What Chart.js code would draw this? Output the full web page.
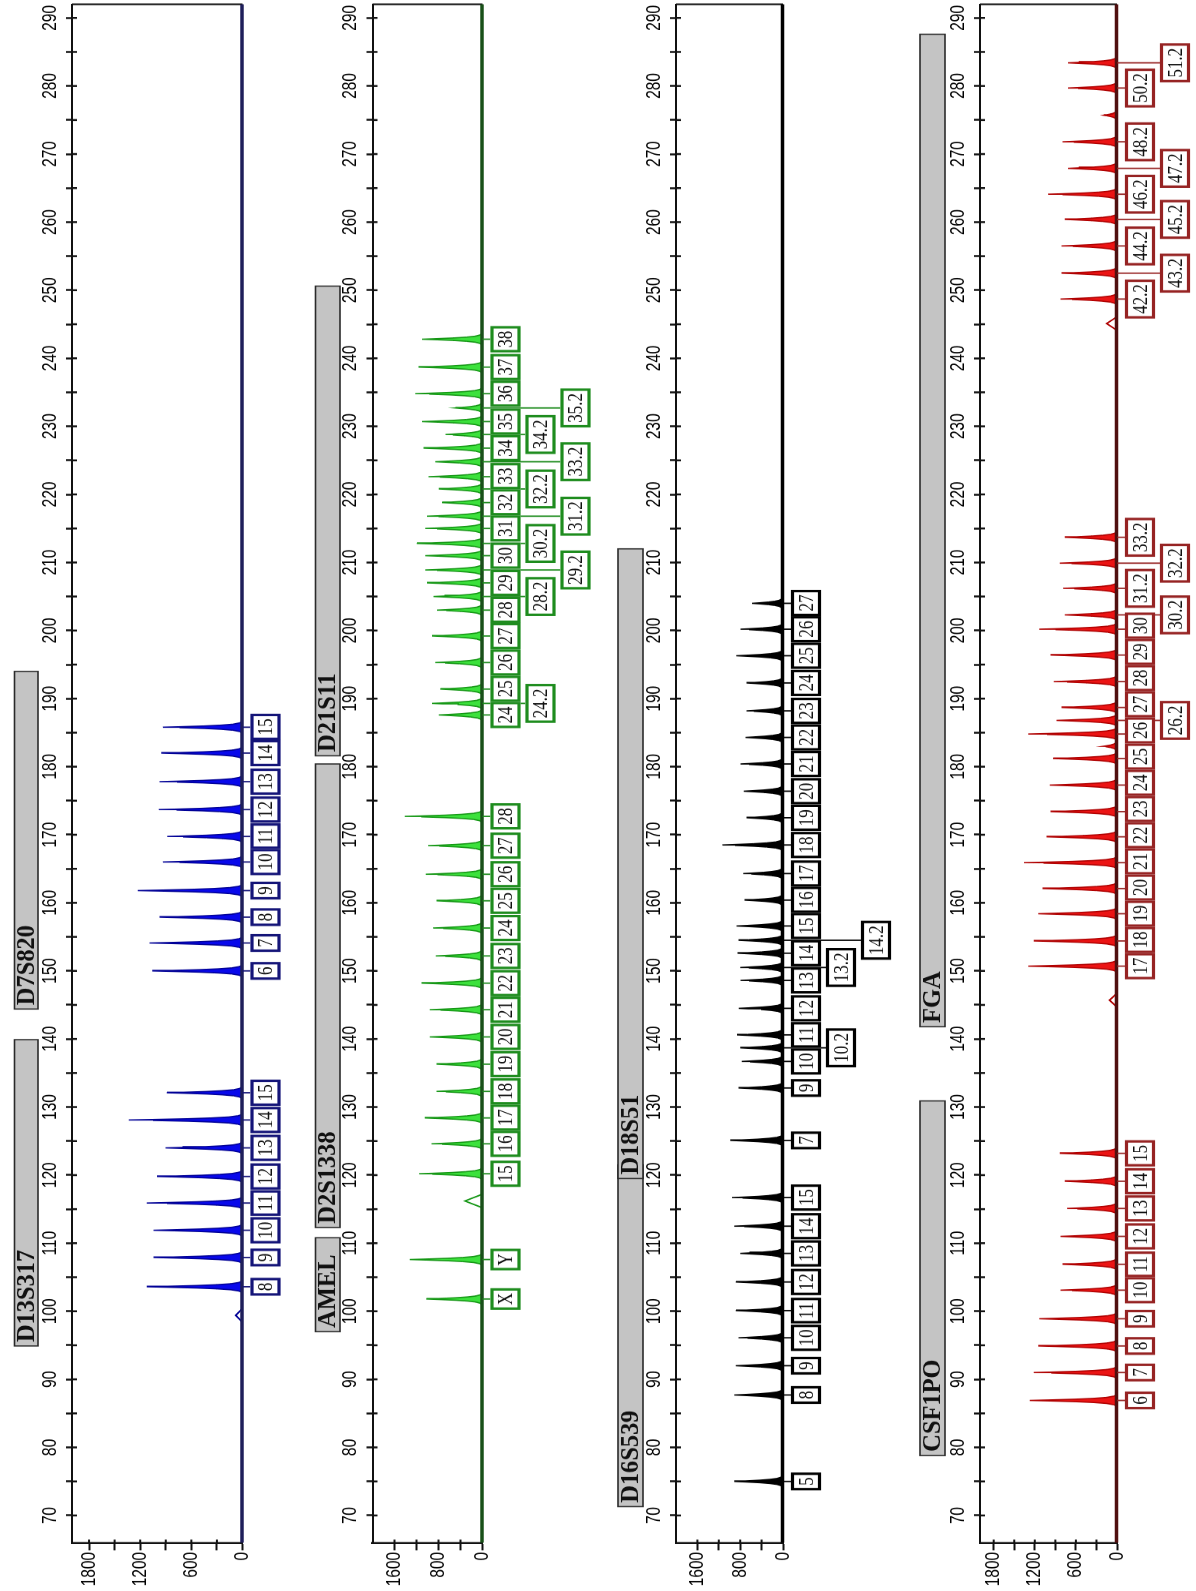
<!DOCTYPE html>
<html>
<head>
<meta charset="utf-8">
<title>STR allelic ladder</title>
<script src="https://cdn.jsdelivr.net/npm/chart.js@4.4.1/dist/chart.umd.min.js"></script>
<style>
  html, body { margin:0; padding:0; background:#ffffff; width:1196px; height:1591px; overflow:hidden; }
  #land { position:absolute; left:0; top:0; width:2066px; height:1196px; transform-origin:0 0;
          transform: translate(0px,1591px) rotate(-90deg) scaleX(0.770087); }
  #land canvas { position:absolute; left:0; top:0; }
</style>
</head>
<body>
<div id="land">
  <canvas id="cBlue" width="2066" height="1196"></canvas>
  <canvas id="cGreen" width="2066" height="1196"></canvas>
  <canvas id="cBlack" width="2066" height="1196"></canvas>
  <canvas id="cRed" width="2066" height="1196"></canvas>
</div>
<script>
// ================= DATA =================
const bpTicks = [70,75,80,85,90,95,100,105,110,115,120,125,130,135,140,145,150,155,160,165,170,175,180,185,190,195,200,205,210,215,220,225,230,235,240,245,250,255,260,265,270,275,280,285,290];
const bpTickLabels = [70,80,90,100,110,120,130,140,150,160,170,180,190,200,210,220,230,240,250,260,270,280,290];
const rfuTicksA = [0,300,600,900,1200,1500,1800];
const rfuLabelsA = [0,600,1200,1800];
const rfuTicksB = [0,400,800,1200,1600];
const rfuLabelsB = [0,800,1600];

// Blue dye
const blueLoci = ['D13S317','D7S820'];
const blueLociFrom = [94.9,144.4];
const blueLociTo = [139.9,194.0];
const blueAlleles = ['8','9','10','11','12','13','14','15','6','7','8','9','10','11','12','13','14','15'];
const blueSizes = [103.6,107.9,111.9,115.9,119.8,124.0,128.1,132.1,150.0,154.1,157.9,161.8,166.0,169.75,173.7,177.8,182.0,185.8];
const blueHeights = [1122,1043,1043,1122,1004,902,1334,887,1059,1090,973,1228,934,882,981,973,953,934];
const blueArtSizes = [99.4];
const blueArtHeights = [80];

// Green dye
const greenLoci = ['AMEL','D2S1338','D21S11'];
const greenLociFrom = [97.0,112.3,181.6];
const greenLociTo = [110.8,180.4,250.6];
const greenAlleles = ['X','Y','15','16','17','18','19','20','21','22','23','24','25','26','27','28',
  '24','24.2','25','26','27','28','28.2','29','29.2','30','30.2','31','31.2','32','32.2','33','33.2','34','34.2','35','35.2','36','37','38'];
const greenSizes = [101.8,107.6,120.2,124.6,128.4,132.3,136.3,140.3,144.3,148.2,152.2,156.3,160.3,164.2,168.4,172.7,
  187.6,189.3,191.4,195.3,199.2,203.0,205.0,207.0,208.9,211.0,212.8,215.0,216.8,218.8,220.8,222.6,224.8,226.8,228.8,230.7,232.7,234.8,238.7,242.8];
const greenHeights = [1020,1320,1152,927,1048,836,836,958,958,1109,848,897,836,1030,988,1412,
  796,918,765,857,918,826,888,1009,1040,1040,1193,1040,1009,734,796,980,857,1071,673,1101,490,1224,1163,1101];
const greenArtSizes = [116.2];
const greenArtHeights = [320];

// Black dye
const blackLoci = ['D16S539','D18S51'];
const blackLociFrom = [71.3,119.5];
const blackLociTo = [121.5,212.0];
const blackAlleles = ['5','8','9','10','11','12','13','14','15',
  '7','9','10','10.2','11','12','13','13.2','14','14.2','15','16','17','18','19','20','21','22','23','24','25','26','27'];
const blackSizes = [75.0,87.7,92.0,96.1,100.1,104.3,108.5,112.5,116.7,
  125.1,132.8,136.7,138.7,140.6,144.5,148.6,150.5,152.6,154.5,156.6,160.4,164.3,168.5,172.5,176.4,180.4,184.3,188.2,192.3,196.3,200.2,204.0];
const blackHeights = [911,911,880,831,880,880,800,911,954,
  985,831,769,800,860,824,793,800,850,830,867,719,743,1133,682,732,793,700,682,682,873,793,576];
const blackArtSizes = [];
const blackArtHeights = [];

// Red dye
const redLoci = ['CSF1PO','FGA'];
const redLociFrom = [78.8,141.8];
const redLociTo = [130.9,287.6];
const redAlleles = ['6','7','8','9','10','11','12','13','14','15',
  '17','18','19','20','21','22','23','24','25','26','26.2','27','28','29','30','30.2','31.2','32.2','33.2',
  '42.2','43.2','44.2','45.2','46.2','47.2','48.2','50.2','51.2','',''];
const redSizes = [86.9,91.0,94.9,98.9,103.1,106.9,111.0,115.1,119.1,123.2,
  150.7,154.4,158.4,162.1,165.9,169.7,173.4,177.3,181.2,184.8,186.8,188.7,192.5,196.4,200.2,202.3,206.2,209.9,213.7,
  248.7,252.5,256.5,260.4,264.1,267.9,271.8,279.7,283.4,183.0,275.7];
const redHeights = [1272,1214,1150,1136,825,796,825,728,762,835,
  1296,1214,1150,1087,1359,1029,971,981,932,1296,883,811,922,971,1136,762,786,835,762,
  825,811,811,762,1005,714,796,714,714,200,194];
const redArtSizes = [145.7,245.1];
const redArtHeights = [110,150];

// ================= STYLE / LAYOUT =================
const K = 1591/2066;                 // horizontal squeeze of the landscape drawing
const LW = 2066, LH = 1196;
const plotLeft = (1591-1542.7)/K;
const plotRight = (1591-4.3)/K;
const bpMin = 66.0, bpMax = 292.0;
const peakProfile = [[-0.82,0],[-0.62,0.04],[-0.44,0.12],[-0.3,0.27],[-0.18,0.48],[-0.07,0.78],[0,1],
                     [0.07,0.78],[0.18,0.48],[0.3,0.27],[0.44,0.12],[0.62,0.04],[0.82,0]];
const artProfile = [[-1.0,0],[0,1],[1.0,0]];

const panels = [
  {canvas:'cBlue', top:72, bottom:242.5, barTop:14.5, barBottom:38,
   fill:'rgb(8,8,235)', line:'rgb(0,0,150)', box:'rgb(20,20,120)', base:'rgb(30,30,90)',
   ticks:rfuTicksA, labels:rfuLabelsA,
   loci:blueLoci, lociFrom:blueLociFrom, lociTo:blueLociTo,
   alleles:blueAlleles, sizes:blueSizes, heights:blueHeights, artS:blueArtSizes, artH:blueArtHeights},
  {canvas:'cGreen', top:372.5, bottom:482.5, barTop:315.5, barBottom:340,
   fill:'rgb(60,225,60)', line:'rgb(20,150,20)', box:'rgb(30,140,30)', base:'rgb(25,80,25)',
   ticks:rfuTicksB, labels:rfuLabelsB,
   loci:greenLoci, lociFrom:greenLociFrom, lociTo:greenLociTo,
   alleles:greenAlleles, sizes:greenSizes, heights:greenHeights, artS:greenArtSizes, artH:greenArtHeights},
  {canvas:'cBlack', top:676, bottom:783, barTop:618, barBottom:643,
   fill:'rgb(0,0,0)', line:'rgb(0,0,0)', box:'rgb(0,0,0)', base:'rgb(0,0,0)',
   ticks:rfuTicksB, labels:rfuLabelsB,
   loci:blackLoci, lociFrom:blackLociFrom, lociTo:blackLociTo,
   alleles:blackAlleles, sizes:blackSizes, heights:blackHeights, artS:blackArtSizes, artH:blackArtHeights},
  {canvas:'cRed', top:980, bottom:1117, barTop:920, barBottom:945,
   fill:'rgb(235,20,20)', line:'rgb(175,0,0)', box:'rgb(150,35,35)', base:'rgb(80,15,15)',
   ticks:rfuTicksA, labels:rfuLabelsA,
   loci:redLoci, lociFrom:redLociFrom, lociTo:redLociTo,
   alleles:redAlleles, sizes:redSizes, heights:redHeights, artS:redArtSizes, artH:redArtHeights}
];

function profilePoints(sizes, heights, prof){
  const pts = [];
  sizes.forEach((s,i)=>prof.forEach(([dx,f])=>pts.push({x:s+dx, y:heights[i]*f})));
  pts.sort((a,b)=>a.x-b.x);
  return pts;
}

// ---- plugins ----
const frameAndTicks = {
  id:'frameAndTicks',
  afterDatasetsDraw(chart, args, o){
    const {ctx, chartArea:a, scales:{x, y}} = chart;
    ctx.save();
    ctx.strokeStyle = '#111'; ctx.lineWidth = 2.5;
    x.ticks.forEach(t=>{ const px = x.getPixelForValue(t.value);
      ctx.beginPath(); ctx.moveTo(px, a.top); ctx.lineTo(px, a.top+5); ctx.stroke(); });
    ctx.lineWidth = 2;
    y.ticks.forEach(t=>{ const py = y.getPixelForValue(t.value);
      if (t.value===0) return;
      ctx.beginPath(); ctx.moveTo(a.left, py); ctx.lineTo(a.left+4, py); ctx.stroke(); });
    ctx.lineWidth = 2.2; ctx.strokeStyle = '#111';
    ctx.beginPath(); ctx.moveTo(a.right, a.top); ctx.lineTo(a.right, a.bottom); ctx.stroke();
    const b = y.getPixelForValue(0);
    ctx.strokeStyle = o.base; ctx.lineWidth = 3.5;
    ctx.beginPath(); ctx.moveTo(a.left, b-0.5); ctx.lineTo(a.right, b-0.5); ctx.stroke();
    ctx.restore();
  }
};

const lociBars = {
  id:'lociBars',
  afterDraw(chart, args, o){
    const {ctx, scales:{x}} = chart;
    ctx.save();
    o.names.forEach((n,i)=>{
      const x0 = x.getPixelForValue(o.from[i]), x1 = x.getPixelForValue(o.to[i]);
      ctx.fillStyle = '#c4c4c4';
      ctx.fillRect(x0, o.top, x1-x0, o.bottom-o.top);
      ctx.strokeStyle = '#2a2a2a'; ctx.lineWidth = 1.6;
      ctx.strokeRect(x0, o.top, x1-x0, o.bottom-o.top);
    });
    o.names.forEach((n,i)=>{
      const x0 = x.getPixelForValue(o.from[i]);
      ctx.save();
      ctx.translate(x0+5, (o.top+o.bottom)/2+1);
      ctx.scale(1.22, 1);
      ctx.font = "bold 26px 'Liberation Serif'";
      ctx.fillStyle = '#111'; ctx.textBaseline = 'middle'; ctx.textAlign = 'left';
      ctx.fillText(n, 0, 0);
      ctx.restore();
    });
    ctx.restore();
  }
};

const alleleBoxes = {
  id:'alleleBoxes',
  afterDatasetsDraw(chart, args, o){
    const {ctx, scales:{x, y}} = chart;
    const base = y.getPixelForValue(0);
    ctx.save();
    ctx.font = "22px 'Liberation Serif'";
    const items = [];
    o.alleles.forEach((t,i)=>{ if(t==='') return;
      const w = ctx.measureText(t).width + 12;
      const cx = x.getPixelForValue(o.sizes[i]);
      items.push({t, cx, w, l:cx-w/2, row:-1});
    });
    items.sort((a,b)=>a.cx-b.cx);
    const rows = [[],[],[],[]];
    items.forEach(it=>{
      for (let r=0;r<rows.length;r++){
        const last = rows[r][rows[r].length-1];
        if (!last || it.l >= last.l+last.w-6){
          if (last && it.l < last.l+last.w) it.l = last.l+last.w;
          it.row = r; rows[r].push(it); break;
        }
      }
    });
    const rowH = 30, gap0 = 8, step = 35;
    ctx.strokeStyle = o.box; ctx.lineWidth = 1.8;
    items.forEach(it=>{
      const top = base + gap0 + it.row*step;
      ctx.beginPath(); ctx.moveTo(it.cx, base); ctx.lineTo(it.cx, top); ctx.stroke();
    });
    items.forEach(it=>{
      const top = base + gap0 + it.row*step;
      ctx.fillStyle = '#fff';
      ctx.fillRect(it.l, top, it.w, rowH);
      ctx.strokeStyle = o.box; ctx.lineWidth = 3.2;
      ctx.strokeRect(it.l+1.5, top+1.5, it.w-3, rowH-3);
      ctx.fillStyle = '#111'; ctx.textAlign = 'center'; ctx.textBaseline = 'middle';
      ctx.fillText(it.t, it.l+it.w/2, top+rowH/2+1);
    });
    ctx.restore();
  }
};

Chart.defaults.font.family = "'Liberation Sans', Arial, sans-serif";

panels.forEach(p=>{
  const xH = 40;
  new Chart(document.getElementById(p.canvas), {
    type:'line',
    data:{ datasets:[
      { data:[{x:bpMin,y:0}].concat(profilePoints(p.sizes,p.heights,peakProfile),[{x:bpMax,y:0}]),
        borderColor:p.line, backgroundColor:p.fill, borderWidth:1.6, fill:'origin', pointRadius:0, tension:0 },
      { data:profilePoints(p.artS,p.artH,artProfile),
        borderColor:p.line, borderWidth:1.8, fill:false, pointRadius:0, tension:0 }
    ]},
    options:{
      responsive:false, animation:false, devicePixelRatio:1,
      layout:{ padding:{ left:0, right:LW-plotRight, top:p.top-xH, bottom:LH-p.bottom } },
      plugins:{ legend:{display:false}, tooltip:{enabled:false},
        frameAndTicks:{ base:p.base },
        lociBars:{ names:p.loci, from:p.lociFrom, to:p.lociTo, top:p.barTop, bottom:p.barBottom },
        alleleBoxes:{ alleles:p.alleles, sizes:p.sizes, box:p.box } },
      scales:{
        x:{ type:'linear', position:'top', min:bpMin, max:bpMax,
            afterFit(s){ s.height = xH; },
            afterBuildTicks(s){ s.ticks = bpTicks.map(v=>({value:v})); },
            ticks:{ autoSkip:false, maxRotation:0, minRotation:0, padding:4, color:'#000',
                    font:{ size:20 }, callback:v=> bpTickLabels.includes(v) ? String(v) : '' },
            grid:{ drawOnChartArea:false, tickLength:6, tickWidth:2.5, tickColor:'#111' },
            border:{ color:'#111', width:2 } },
        y:{ type:'linear', min:0, max:2000,
            afterFit(s){ s.width = plotLeft; },
            afterBuildTicks(s){ s.ticks = p.ticks.map(v=>({value:v})); },
            ticks:{ autoSkip:false, padding:2, color:'#000', font:{ size:20 },
                    callback:v=> p.labels.includes(v) ? String(v) : '' },
            grid:{ drawOnChartArea:false, tickLength:10, tickWidth:2, tickColor:'#111' },
            border:{ color:'#111', width:2.6 } }
      }
    },
    plugins:[lociBars, frameAndTicks, alleleBoxes]
  });
});
</script>
</body>
</html>
